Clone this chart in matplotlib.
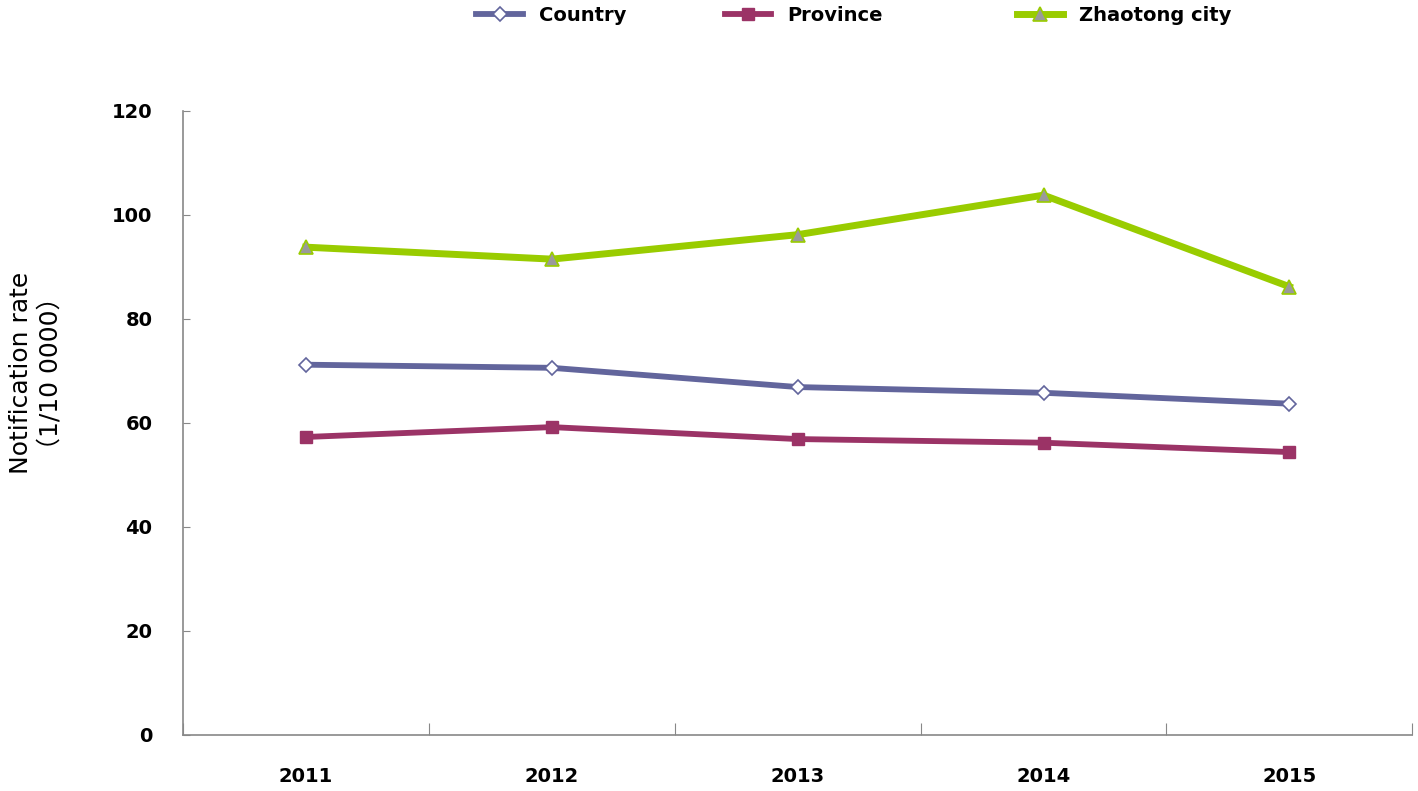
import matplotlib
matplotlib.use("Agg")
import matplotlib.pyplot as plt
from matplotlib.lines import Line2D
import numpy as np

# Data
years = ["2011", "2012", "2013", "2014", "2015"]
country = [71.2, 70.6, 66.9, 65.8, 63.7]
province = [57.3, 59.2, 56.9, 56.2, 54.4]
zhaotong = [93.8, 91.5, 96.2, 103.8, 86.2]

plt.rcParams["font.family"] = ["DejaVu Sans", "Noto Sans CJK SC"]

fig = plt.figure(figsize=(14.18, 7.91), dpi=100)
ax = fig.add_axes([0.129, 0.0708, 0.867, 0.789])

x = np.arange(len(years))
styles = [
    dict(color="#62659c", linewidth=4.2, marker="D", markersize=7,
         markerfacecolor="white", markeredgecolor="#62659c", markeredgewidth=1.2),
    dict(color="#9b3366", linewidth=4.2, marker="s", markersize=9,
         markerfacecolor="#9b3366", markeredgecolor="#9b3366"),
    dict(color="#99cc00", linewidth=5, marker="^", markersize=10,
         markerfacecolor="#9a9a9a", markeredgecolor="#99cc00", markeredgewidth=1.2),
]
names = ["Country", "Province", "Zhaotong city"]
for vals, st in zip([country, province, zhaotong], styles):
    ax.plot(x, vals, "-", **st)

ax.set_xlim(-0.5, len(years) - 0.5)
ax.set_ylim(0, 120)
ax.set_yticks(np.arange(0, 121, 20))
ax.tick_params(axis="y", direction="in", length=5, color="#888888", labelsize=14, pad=22)
for lbl in ax.get_yticklabels():
    lbl.set_fontweight("bold")

ax.set_xticks(np.arange(-0.5, len(years), 1.0))
ax.set_xticklabels([])
ax.set_xticks(x, minor=True)
ax.set_xticklabels(years, minor=True, fontsize=14, fontweight="bold")
ax.tick_params(axis="x", which="major", direction="in", length=9, color="#888888")
ax.tick_params(axis="x", which="minor", length=0, pad=23)

for side in ["top", "right"]:
    ax.spines[side].set_visible(False)
for side in ["left", "bottom"]:
    ax.spines[side].set_color("#888888")
    ax.spines[side].set_linewidth(1.2)

ax.set_ylabel("Notification rate\n（1/10 0000）", fontsize=18, linespacing=1.3)
ax.yaxis.set_label_coords(-0.098, 0.58)

# legend entries placed across the top as in the reference
leg_x = [0.336, 0.511, 0.717]
for name, st, lx in zip(names, styles, leg_x):
    h = Line2D([], [], linestyle="-", **st)
    fig.legend([h], [name], loc="center left", bbox_to_anchor=(lx, 0.981), frameon=False,
               prop={"size": 14, "weight": "bold"}, handlelength=2.4, handletextpad=0.8,
               borderaxespad=0, borderpad=0)

fig.savefig("out.png", dpi=100)
